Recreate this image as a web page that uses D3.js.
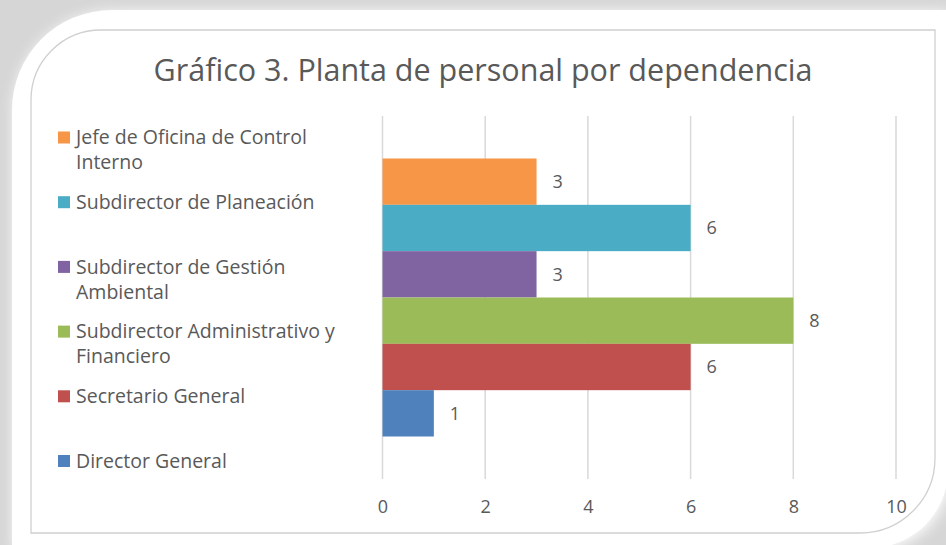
<!DOCTYPE html>
<html>
<head>
<meta charset="utf-8">
<script src="https://cdn.jsdelivr.net/npm/d3@7"></script>
<style>
  html, body { margin: 0; padding: 0; background: #dcdcdc; }
  svg { display: block; }
</style>
</head>
<body>
<div id="chart"></div>
<script>
// datos del grafico (orden de la leyenda, de arriba a abajo)
const categories = [
  "Jefe de Oficina de Control Interno",
  "Subdirector de Planeación",
  "Subdirector de Gestión Ambiental",
  "Subdirector Administrativo y Financiero",
  "Secretario General",
  "Director General"
];
const values = [3, 6, 3, 8, 6, 1];
const colors = ["#F79646", "#4BACC6", "#8064A2", "#9BBB59", "#C0504D", "#4F81BD"];
const xTicks = [0, 2, 4, 6, 8, 10];
const title = "Gráfico 3. Planta de personal por dependencia";

const W = 946, H = 545;
const plot = {left: 382.5, right: 896, top: 116, bottom: 479};
const font = "'Open Sans', sans-serif";
const textColor = "#595959";

const svg = d3.select("#chart").append("svg")
  .attr("width", W)
  .attr("height", H);

const defs = svg.append("defs");
const blur = defs.append("filter").attr("id", "soft")
  .attr("x", "-10%").attr("y", "-10%").attr("width", "120%").attr("height", "120%");
blur.append("feGaussianBlur").attr("stdDeviation", 7);

// forma con esquinas redondeadas arriba-izq y abajo-der
function frame(x0, y0, x1, y1, r1, r2) {
  return `M${x0},${y0 + r1} A${r1},${r1} 0 0 1 ${x0 + r1},${y0}` +
    ` L${x1},${y0} L${x1},${y1 - r2} A${r2},${r2} 0 0 1 ${x1 - r2},${y1}` +
    ` L${x0},${y1} Z`;
}

svg.append("rect").attr("width", W).attr("height", H).attr("fill", "#d6d6d6");
svg.append("path")
  .attr("d", frame(14, 12, 950, 550, 100, 78))
  .attr("fill", "#ffffff")
  .attr("filter", "url(#soft)");
svg.append("path")
  .attr("d", frame(12, 10, 948, 548, 100, 78))
  .attr("fill", "#ffffff");
svg.append("path")
  .attr("d", frame(31, 30, 935, 533, 70, 75))
  .attr("fill", "#ffffff")
  .attr("stroke", "#d0d0d0")
  .attr("stroke-width", 1.3);

// titulo
svg.append("text")
  .attr("x", 483)
  .attr("y", 81)
  .attr("text-anchor", "middle")
  .attr("font-family", font)
  .attr("font-size", 30.5)
  .attr("fill", textColor)
  .text(title);

// escalas
const x = d3.scaleLinear().domain([0, 10]).range([plot.left, plot.right]);
const gap = 42.5;
const y = d3.scaleBand()
  .domain(categories)
  .range([plot.top + gap, plot.bottom - gap])
  .padding(0);

// lineas de division
svg.append("g")
  .selectAll("line")
  .data(xTicks)
  .join("line")
  .attr("x1", d => x(d)).attr("x2", d => x(d))
  .attr("y1", plot.top).attr("y2", plot.bottom)
  .attr("stroke", "#d9d9d9")
  .attr("stroke-width", 1.5);

// eje x
const xAxis = svg.append("g")
  .attr("transform", `translate(0,${plot.bottom})`)
  .call(d3.axisBottom(x).tickValues(xTicks).tickSize(0).tickPadding(21));
xAxis.select(".domain").remove();
xAxis.selectAll("text")
  .attr("font-family", font)
  .attr("font-size", 18)
  .attr("fill", textColor);

// barras
const data = categories.map((c, i) => ({name: c, value: values[i], color: colors[i]}));

svg.append("g")
  .selectAll("rect")
  .data(data)
  .join("rect")
  .attr("x", x(0))
  .attr("y", d => y(d.name))
  .attr("width", d => x(d.value) - x(0))
  .attr("height", y.bandwidth())
  .attr("fill", d => d.color);

// etiquetas de valor
svg.append("g")
  .selectAll("text")
  .data(data)
  .join("text")
  .attr("x", d => x(d.value) + 16)
  .attr("y", d => y(d.name) + y.bandwidth() / 2)
  .attr("dy", "0.35em")
  .attr("font-family", font)
  .attr("font-size", 18)
  .attr("fill", textColor)
  .text(d => d.value);

// leyenda
const legendTop = 137.5, legendStep = 64.7, lineH = 25, maxW = 276;
const legend = svg.append("g");

data.forEach((d, i) => {
  const cy = legendTop + i * legendStep;
  legend.append("rect")
    .attr("x", 58).attr("y", cy - 6)
    .attr("width", 12).attr("height", 12)
    .attr("fill", d.color);
  const t = legend.append("text")
    .attr("font-family", font)
    .attr("font-size", 19.5)
    .attr("fill", textColor);
  // partir el texto en lineas
  const words = d.name.split(" ");
  let line = [], row = 0;
  let tspan = t.append("tspan").attr("x", 76).attr("y", cy).attr("dy", "0.35em");
  words.forEach(w => {
    line.push(w);
    tspan.text(line.join(" "));
    if (tspan.node().getComputedTextLength() > maxW && line.length > 1) {
      line.pop();
      tspan.text(line.join(" "));
      line = [w];
      row++;
      tspan = t.append("tspan").attr("x", 76).attr("y", cy + row * lineH).attr("dy", "0.35em").text(w);
    }
  });
});
</script>
</body>
</html>
